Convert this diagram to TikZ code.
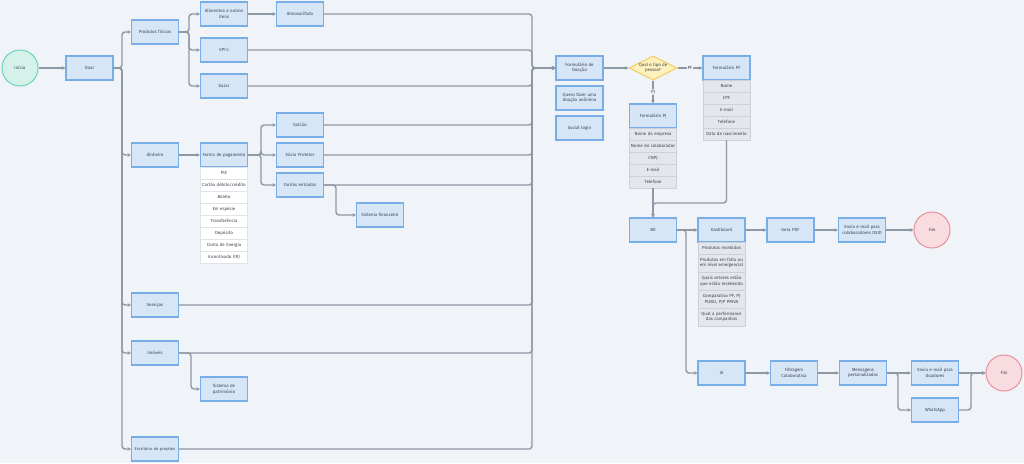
\documentclass[tikz,border=0pt]{standalone}
\usepackage{fontspec}
\setmainfont{Fira Sans}
\usetikzlibrary{shapes.geometric,arrows.meta,calc}
\definecolor{bg}{HTML}{F0F3F7}
\definecolor{boxfill}{HTML}{D6E6F7}
\definecolor{boxline}{HTML}{78AEE8}
\definecolor{edgecol}{HTML}{8E98A4}
\definecolor{rowfill}{HTML}{E3E6EA}
\definecolor{rowline}{HTML}{CBD1D8}
\definecolor{txt}{HTML}{3D4550}
\definecolor{startfill}{HTML}{D4F1EA}
\definecolor{startline}{HTML}{6CD3BC}
\definecolor{endfill}{HTML}{F9DCE0}
\definecolor{endline}{HTML}{E8909C}
\definecolor{decfill}{HTML}{FFF1BE}
\definecolor{decline}{HTML}{F3CD5E}
\hyphenpenalty=10000
\begin{document}
\begin{tikzpicture}[x=1pt,y=-1pt,
  font=\fontsize{4.4}{5.5}\selectfont, text=txt,
  box/.style={draw=boxline, fill=boxfill, line width=1.15pt, minimum width=47pt, minimum height=24pt, inner sep=0.5pt, align=center, text width=46pt},
  row/.style={draw=rowline, fill=rowfill, line width=0.6pt, minimum width=47pt, minimum height=12pt, inner sep=0.5pt, align=center, text width=46pt},
  wrow/.style={row, fill=white, draw=rowline!60},
  tallrow/.style={row, minimum height=18pt},
  startc/.style={circle, draw=startline, fill=startfill, line width=1pt, minimum size=36pt, inner sep=0pt},
  endc/.style={circle, draw=endline, fill=endfill, line width=1pt, minimum size=36pt, inner sep=0pt},
  dec/.style={diamond, draw=decline, fill=decfill, line width=1pt, minimum width=48pt, minimum height=24pt, inner sep=0pt, aspect=2, align=center},
  conn/.style={draw=edgecol, line width=1.4pt, rounded corners=3pt, -{Stealth[length=3.4pt,width=3.6pt]}},
  elabel/.style={fill=bg, inner sep=1pt, font=\fontsize{4.5}{5}\selectfont}
]
\fill[bg] (0,0) rectangle (1024,463);
\useasboundingbox (0,0) rectangle (1024,463);

% bus coordinates
\coordinate (lb) at (122,0);
\coordinate (pb) at (189,0);
\coordinate (rb) at (532,0);
\coordinate (fb) at (261,0);
\coordinate (ob) at (336,0);
\coordinate (ib) at (191,0);
\coordinate (db) at (686,0);
\coordinate (mb) at (898,0);
\coordinate (wb) at (971,0);

% left part
\node[startc] (inicio) at (20,68) {Início};
\node[box] (doar) at (89.5,68) {Doar};
\node[box] (prod) at (155,32) {Produtos físicos};
\node[box] (alim) at (224,14) {Alimentos e outros\\itens};
\node[box] (almox) at (300,14) {Almoxarifado};
\node[box] (epi) at (224,50) {EPI's};
\node[box] (bazar) at (224,86) {bazar};
\node[box] (din) at (155,155) {dinheiro};
\node[box] (forma) at (224,155) {Forma de pagamento};
\node[wrow] at (224,173) {PIX};
\node[wrow] at (224,185) {Cartão débito/crédito};
\node[wrow] at (224,197) {Boleto};
\node[wrow] at (224,209) {Em espécie};
\node[wrow] at (224,221) {Transferência};
\node[wrow] at (224,233) {Depósito};
\node[wrow] at (224,245) {Conta de Energia};
\node[wrow] at (224,257) {Incentivado (IR)};
\node[box] (balcao) at (300,125) {balcão};
\node[box] (socio) at (300,155) {Sócio Protetor};
\node[box] (outras) at (300,185) {Outras entradas};
\node[box] (sisfin) at (380,215) {Sistema financeiro};
\node[box] (serv) at (155,305) {Serviços};
\node[box] (imov) at (155,353) {Imóveis};
\node[box] (patr) at (224,389) {Sistema de\\patrimônio};
\node[box, font=\fontsize{4.1}{5}\selectfont] (escr) at (155,449) {Escritório de projetos};

% middle
\node[box] (form) at (579.5,68) {Formulário de\\Doação};
\node[box] (anon) at (579.5,98) {Quero fazer uma\\doação anônima};
\node[box] (social) at (579.5,128) {Social login};
\node[dec] (tipo) at (653,68) {Qual o tipo de\\pessoa?};

\node[box] (pf) at (726.5,68) {Formulário PF};
\node[row] at (726.5,86) {Nome};
\node[row] at (726.5,98) {CPF};
\node[row] at (726.5,110) {E-mail};
\node[row] at (726.5,122) {Telefone};
\node[row] (pfdata) at (726.5,134) {Data de nascimento};

\node[box] (pj) at (653,116) {Formulário PJ};
\node[row] at (653,134) {Nome da empresa};
\node[row] at (653,146) {Nome do colaborador};
\node[row] at (653,158) {CNPJ};
\node[row] at (653,170) {E-mail};
\node[row] (pjtel) at (653,182) {Telefone};

\node[box] (bd) at (653,230) {BD};
\node[box] (dash) at (721.5,230) {Dashboard};
\node[row] at (721.5,248) {Produtos recebidos};
\node[tallrow] at (721.5,263) {Produtos em falta ou\\em nível emergencial};
\node[tallrow] at (721.5,281) {Quais setores estão\\que estão recebendo};
\node[tallrow] at (721.5,299) {Comparativo PF, PJ\\PUBLI, PJP PRIVA};
\node[tallrow] at (721.5,317) {Qual a performance\\das campanhas};
\node[box] (pdf) at (790.5,230) {Gera PDF};
\node[box] (env1) at (862,230) {Envia e-mail para\\colaboradores DSID};
\node[endc] (fim1) at (932,230) {Fim};

\node[box] (ia) at (721.5,373) {IA};
\node[box] (filt) at (794,373) {Filtragem\\Colaborativa};
\node[box] (msg) at (863,373) {Mensagens\\personalizadas};
\node[box] (env2) at (935,373) {Envia e-mail para\\doadores};
\node[box] (wa) at (935,410) {WhatsApp};
\node[endc] (fim2) at (1004,373) {Fim};

% connectors left
\draw[conn] (inicio) -- (doar);
\foreach \t in {prod,din,serv,imov,escr}
  \draw[conn] (doar.east) -- (doar.east -| lb) |- (\t.west);
\foreach \t in {alim,epi,bazar}
  \draw[conn] (prod.east) -- (prod.east -| pb) |- (\t.west);
\draw[conn] (alim) -- (almox);
\draw[conn] (din) -- (forma);
\foreach \t in {balcao,socio,outras}
  \draw[conn] (forma.east) -- (forma.east -| fb) |- (\t.west);
\draw[conn] (outras.east) -- (outras.east -| ob) |- (sisfin.west);
\draw[conn] (imov.east) -- (imov.east -| ib) |- (patr.west);

% to the right bus
\foreach \s in {almox,epi,bazar,balcao,socio,outras,serv,imov,escr}
  \draw[conn] (\s.east) -- (\s.east -| rb) |- (form.west);

% middle connectors
\draw[conn] (form) -- (tipo);
\draw[conn] (tipo) -- node[elabel] {PF} (pf);
\draw[conn] (tipo) -- node[elabel] {PJ} (pj);
\draw[conn] (pjtel.south) -- (bd.north);
\coordinate (merge) at (653,203);
\draw[conn] (pfdata.south) |- (merge) -- (bd.north);
\draw[conn] (bd) -- (dash);
\draw[conn] (bd.east) -- (bd.east -| db) |- (ia.west);
\draw[conn] (dash) -- (pdf);
\draw[conn] (pdf) -- (env1);
\draw[conn] (env1) -- (fim1);
\draw[conn] (ia) -- (filt);
\draw[conn] (filt) -- (msg);
\draw[conn] (msg) -- (env2);
\draw[conn] (msg.east) -- (msg.east -| mb) |- (wa.west);
\draw[conn] (env2) -- (fim2);
\draw[conn] (wa.east) -- (wa.east -| wb) |- (fim2.west);
\end{tikzpicture}
\end{document}
